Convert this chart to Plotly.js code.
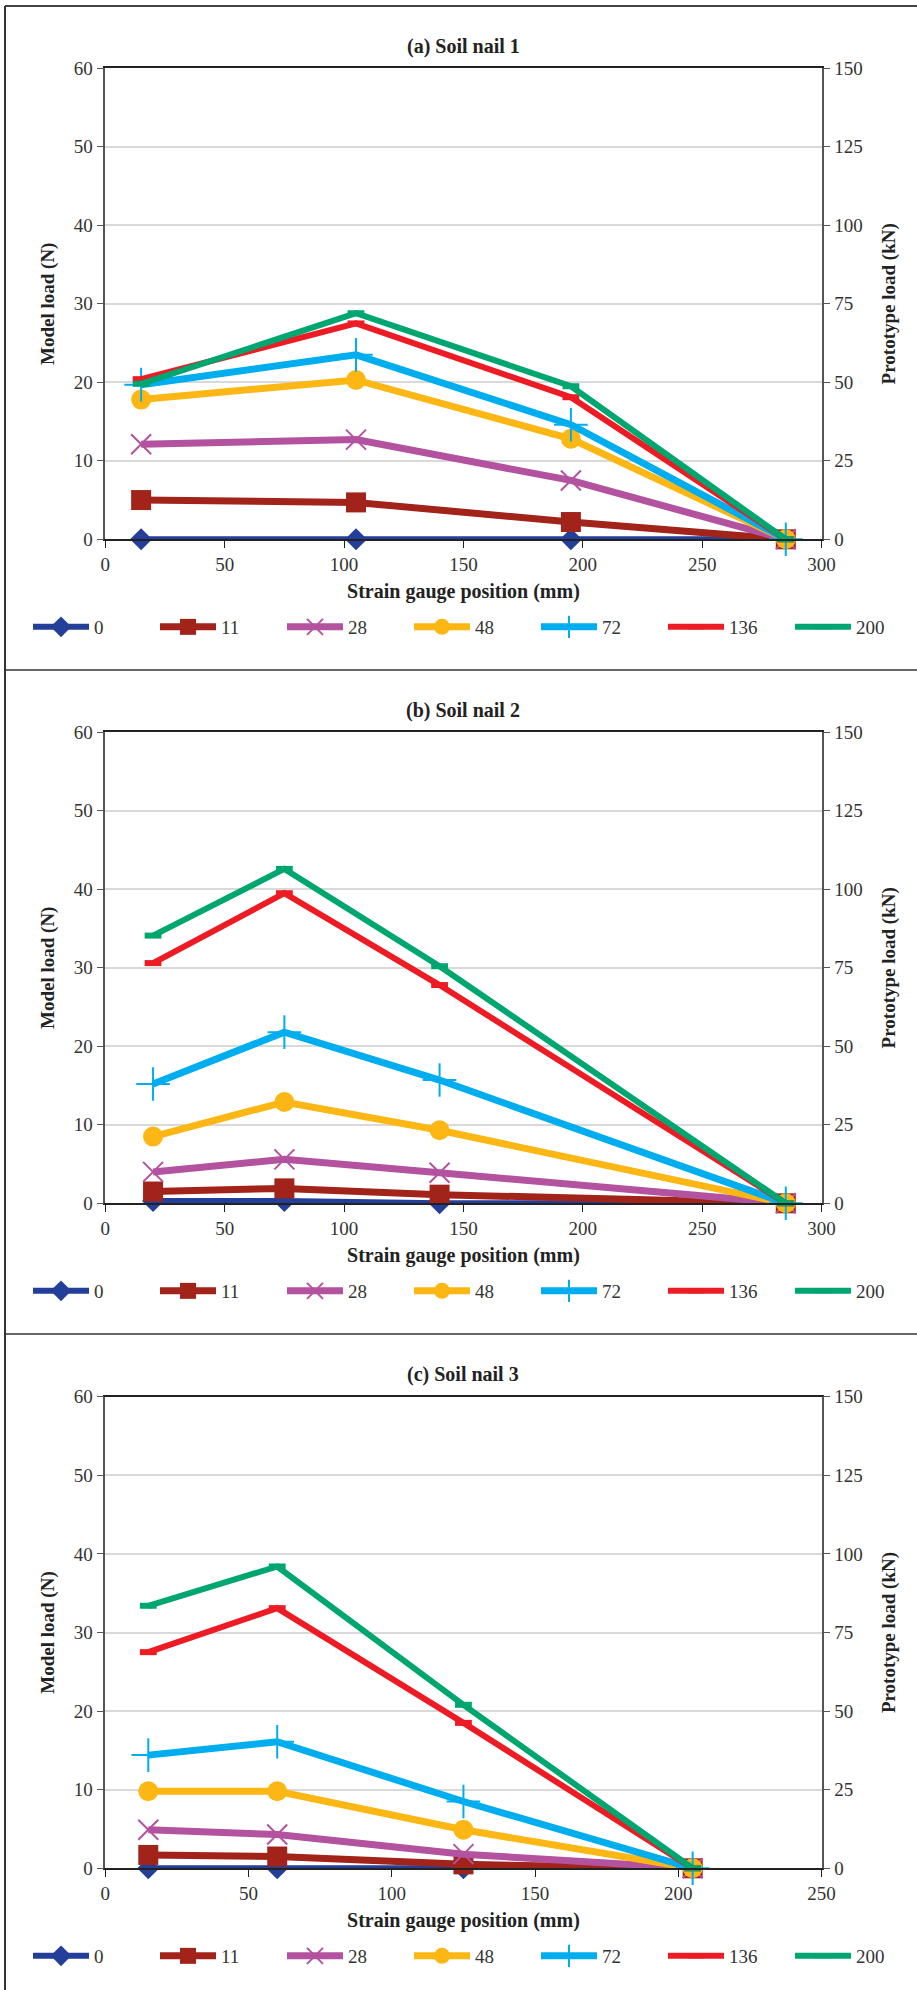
<!DOCTYPE html>
<html>
<head>
<meta charset="utf-8">
<script src="https://cdn.plot.ly/plotly-3.0.1.min.js"></script>
<style>
  html, body { margin: 0; padding: 0; background: #fff; }
  #chart { width: 917px; height: 1990px; }
</style>
</head>
<body>
<div id="chart"></div>
<script>
// ---- data ----
const seriesNames = ['0', '11', '28', '48', '72', '136', '200'];

const panelTitles = ['(a) Soil nail 1', '(b) Soil nail 2', '(c) Soil nail 3'];

const xNail1 = [15, 105, 195, 285];
const xNail2 = [20, 75, 140, 285];
const xNail3 = [15, 60, 125, 205];

const nail1_0   = [0, 0, 0, 0];
const nail1_11  = [5.0, 4.7, 2.2, 0];
const nail1_28  = [12.1, 12.7, 7.5, 0];
const nail1_48  = [17.8, 20.3, 12.8, 0];
const nail1_72  = [19.7, 23.5, 14.6, 0];
const nail1_136 = [20.4, 27.5, 18.1, 0];
const nail1_200 = [19.8, 28.8, 19.5, 0];

const nail2_0   = [0.3, 0.3, 0, 0];
const nail2_11  = [1.5, 1.9, 1.1, 0];
const nail2_28  = [4.0, 5.6, 3.9, 0];
const nail2_48  = [8.5, 12.9, 9.3, 0];
const nail2_72  = [15.2, 21.8, 15.7, 0];
const nail2_136 = [30.6, 39.5, 27.8, 0];
const nail2_200 = [34.1, 42.6, 30.2, 0];

const nail3_0   = [0, 0, 0, 0];
const nail3_11  = [1.7, 1.5, 0.5, 0];
const nail3_28  = [4.9, 4.3, 1.8, 0];
const nail3_48  = [9.8, 9.8, 4.9, 0];
const nail3_72  = [14.4, 16.1, 8.5, 0];
const nail3_136 = [27.5, 33.1, 18.5, 0];
const nail3_200 = [33.4, 38.4, 20.8, 0];

const xTickVals12 = [0, 50, 100, 150, 200, 250, 300];
const xTickVals3 = [0, 50, 100, 150, 200, 250];
const leftTickVals = [0, 10, 20, 30, 40, 50, 60];
const rightTickVals = [0, 25, 50, 75, 100, 125, 150];

// ---- styles ----
const colors = ['#233F9A', '#A1231A', '#B3529F', '#FDB714', '#00AEEF', '#ED1C24', '#00A66F'];
const symbols = ['diamond', 'square', 'x-thin', 'circle', 'cross-thin', 'line-ew', 'line-ew'];
const msizes = [17, 20, 20, 20, 24, 12, 12];
const mlinew = [0, 0, 2, 0, 2, 6, 6];
const lwidths = [6, 7, 7, 7, 7, 6, 6];

const panels = [
  { x: xNail1, ys: [nail1_0, nail1_11, nail1_28, nail1_48, nail1_72, nail1_136, nail1_200] },
  { x: xNail2, ys: [nail2_0, nail2_11, nail2_28, nail2_48, nail2_72, nail2_136, nail2_200] },
  { x: xNail3, ys: [nail3_0, nail3_11, nail3_28, nail3_48, nail3_72, nail3_136, nail3_200] }
];

const W = 917, H = 1990;
const plotLeft = 105.3, plotRight = 821.6;
const plotTops = [68.3, 732.3, 1396.7];
const plotBots = [539.3, 1203.3, 1868.3];
const titleY = [46.7, 710, 1374];
const legendY = [627, 1291, 1956];

const serif = 'Liberation Serif, Times New Roman, serif';
const tickFont = { family: serif, size: 19, color: '#333' };

const traces = [];
panels.forEach((p, pi) => {
  const xa = pi === 0 ? 'x' : 'x' + (pi + 1);
  const ya = pi === 0 ? 'y' : 'y' + (pi + 1);
  const lg = pi === 0 ? 'legend' : 'legend' + (pi + 1);
  p.ys.forEach((yv, si) => {
    traces.push({
      type: 'scatter', mode: 'lines+markers',
      x: p.x, y: yv, name: seriesNames[si],
      xaxis: xa, yaxis: ya, legend: lg,
      cliponaxis: false,
      line: { color: colors[si], width: lwidths[si] },
      marker: { symbol: symbols[si], size: msizes[si], color: colors[si],
                line: { color: colors[si], width: mlinew[si] } },
      hoverinfo: 'x+y+name'
    });
  });
  // placeholder (no visible mark) so the secondary "Prototype load" axis is drawn
  traces.push({
    type: 'scatter', mode: 'markers', x: [null], y: [null],
    xaxis: xa, yaxis: 'y' + (pi + 4), showlegend: false, hoverinfo: 'skip',
    marker: { opacity: 0 }
  });
});

const layout = {
  width: W, height: H,
  margin: { l: 0, r: 0, t: 0, b: 0 },
  paper_bgcolor: '#fff', plot_bgcolor: '#fff',
  showlegend: true,
  annotations: [],
  shapes: [
    { type: 'line', xref: 'paper', yref: 'paper', x0: 5 / W, x1: 1, y0: 1 - 6 / H, y1: 1 - 6 / H, line: { color: '#444', width: 2 } },
    { type: 'line', xref: 'paper', yref: 'paper', x0: 5 / W, x1: 1, y0: 1 - 670 / H, y1: 1 - 670 / H, line: { color: '#666', width: 2 } },
    { type: 'line', xref: 'paper', yref: 'paper', x0: 5 / W, x1: 1, y0: 1 - 1334 / H, y1: 1 - 1334 / H, line: { color: '#666', width: 2 } },
    { type: 'line', xref: 'paper', yref: 'paper', x0: 5 / W, x1: 5 / W, y0: 0, y1: 1 - 6 / H, line: { color: '#333', width: 2 } }
  ]
};

for (let pi = 0; pi < 3; pi++) {
  const sfx = pi === 0 ? '' : String(pi + 1);
  const ydom = [1 - plotBots[pi] / H, 1 - plotTops[pi] / H];
  const xdom = [plotLeft / W, plotRight / W];
  const xmax = pi === 2 ? 250 : 300;
  layout['xaxis' + sfx] = {
    domain: xdom, anchor: 'y' + sfx, range: [0, xmax],
    tickvals: pi === 2 ? xTickVals3 : xTickVals12,
    ticks: 'outside', ticklen: 7, tickwidth: 1.3, tickcolor: '#222',
    showline: true, linecolor: '#222', linewidth: 1.8, mirror: true,
    showgrid: false, zeroline: false, tickfont: tickFont,
    title: { text: 'Strain gauge position (mm)', standoff: 10,
             font: { family: serif, size: 20, color: '#222', weight: 'bold' } }
  };
  layout['yaxis' + sfx] = {
    domain: ydom, anchor: 'x' + sfx, range: [0, 60],
    tickvals: leftTickVals,
    ticks: 'outside', ticklen: 7, tickwidth: 1.3, tickcolor: '#555',
    showline: true, linecolor: '#555', linewidth: 1.5,
    showgrid: true, gridcolor: '#d9d9d9', gridwidth: 1.5, zeroline: false,
    tickfont: tickFont,
    title: { text: 'Model load (N)', standoff: 14,
             font: { family: serif, size: 19, color: '#222', weight: 'bold' } }
  };
  layout['yaxis' + (pi + 4)] = {
    overlaying: 'y' + sfx, anchor: 'x' + sfx, side: 'right', range: [0, 150],
    tickvals: rightTickVals,
    ticks: 'outside', ticklen: 7, tickwidth: 1.3, tickcolor: '#555',
    showline: true, linecolor: '#555', linewidth: 1.5,
    showgrid: false, zeroline: false, tickfont: tickFont,
    title: { text: 'Prototype load (kN)', standoff: 20,
             font: { family: serif, size: 19, color: '#222', weight: 'bold' } }
  };
  layout['legend' + sfx] = {
    orientation: 'h', x: 33 / W, xanchor: 'left',
    y: 1 - legendY[pi] / H, yanchor: 'middle',
    itemwidth: 56, entrywidth: 56, entrywidthmode: 'pixels',
    font: { family: serif, size: 19, color: '#333' },
    bgcolor: 'rgba(0,0,0,0)', traceorder: 'normal'
  };
  layout.annotations.push({
    text: panelTitles[pi], xref: 'paper', yref: 'paper',
    x: (plotLeft + plotRight) / 2 / W, y: 1 - titleY[pi] / H,
    xanchor: 'center', yanchor: 'middle', showarrow: false,
    font: { family: serif, size: 20, color: '#222', weight: 'bold' }
  });
}

Plotly.newPlot('chart', traces, layout, { displayModeBar: false });
</script>
</body>
</html>
